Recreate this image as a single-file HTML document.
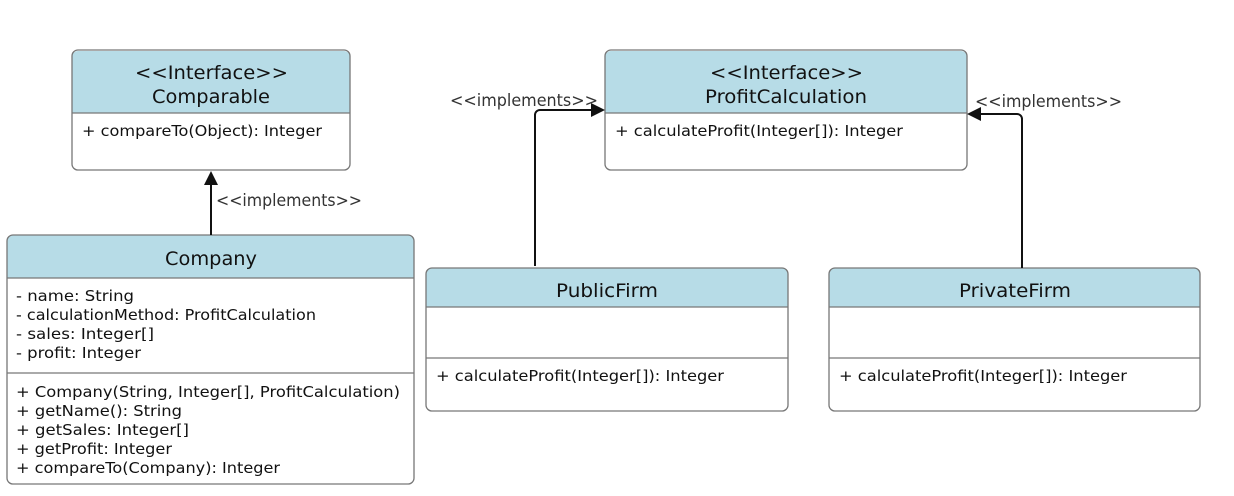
<!DOCTYPE html>
<html><head><meta charset="utf-8"><style>
html,body{margin:0;padding:0;background:#fff;}
svg{display:block;font-family:"DejaVu Sans","Liberation Sans",sans-serif;}
.t{font-size:19px;fill:#111;}
.b{font-size:15px;fill:#111;}
.l{font-size:17px;fill:#333;}
.box{fill:none;stroke:#777;stroke-width:1.3;}
.hd{fill:#b7dce7;}
.ln{stroke:#777;stroke-width:1.3;}
.c{stroke:#111;stroke-width:2;fill:none;}
</style></head><body>
<svg width="1234" height="496" viewBox="0 0 1234 496">
<!-- Comparable -->
<path class="hd" d="M72,113 V57 a6,6 0 0 1 6,-6 H344 a6,6 0 0 1 6,6 V113 Z"/>
<rect class="box" x="72" y="50" width="278" height="120" rx="6"/>
<line class="ln" x1="72" y1="113" x2="350" y2="113"/>
<text class="t" x="135" y="79" textLength="153" lengthAdjust="spacingAndGlyphs">&lt;&lt;Interface&gt;&gt;</text>
<text class="t" x="152" y="103" textLength="118" lengthAdjust="spacingAndGlyphs">Comparable</text>
<text class="b" x="82" y="136" textLength="240" lengthAdjust="spacingAndGlyphs">+ compareTo(Object): Integer</text>

<!-- Company -->
<path class="hd" d="M7,278 V241 a6,6 0 0 1 6,-6 H408 a6,6 0 0 1 6,6 V278 Z"/>
<rect class="box" x="7" y="235" width="407" height="249" rx="6"/>
<line class="ln" x1="7" y1="278" x2="414" y2="278"/>
<line class="ln" x1="7" y1="373" x2="414" y2="373"/>
<text class="t" x="165" y="265" textLength="92" lengthAdjust="spacingAndGlyphs">Company</text>
<text class="b" x="16" y="301" textLength="118" lengthAdjust="spacingAndGlyphs">- name: String</text>
<text class="b" x="16" y="320" textLength="300" lengthAdjust="spacingAndGlyphs">- calculationMethod: ProfitCalculation</text>
<text class="b" x="16" y="339" textLength="138" lengthAdjust="spacingAndGlyphs">- sales: Integer[]</text>
<text class="b" x="16" y="358" textLength="125" lengthAdjust="spacingAndGlyphs">- profit: Integer</text>
<text class="b" x="16" y="397" textLength="384" lengthAdjust="spacingAndGlyphs">+ Company(String, Integer[], ProfitCalculation)</text>
<text class="b" x="16" y="416" textLength="166" lengthAdjust="spacingAndGlyphs">+ getName(): String</text>
<text class="b" x="16" y="435" textLength="173" lengthAdjust="spacingAndGlyphs">+ getSales: Integer[]</text>
<text class="b" x="16" y="454" textLength="156" lengthAdjust="spacingAndGlyphs">+ getProfit: Integer</text>
<text class="b" x="16" y="473" textLength="264" lengthAdjust="spacingAndGlyphs">+ compareTo(Company): Integer</text>

<!-- ProfitCalculation -->
<path class="hd" d="M605,113 V57 a6,6 0 0 1 6,-6 H961 a6,6 0 0 1 6,6 V113 Z"/>
<rect class="box" x="605" y="50" width="362" height="120" rx="6"/>
<line class="ln" x1="605" y1="113" x2="967" y2="113"/>
<text class="t" x="710" y="79" textLength="153" lengthAdjust="spacingAndGlyphs">&lt;&lt;Interface&gt;&gt;</text>
<text class="t" x="705" y="103" textLength="162" lengthAdjust="spacingAndGlyphs">ProfitCalculation</text>
<text class="b" x="615" y="136" textLength="288" lengthAdjust="spacingAndGlyphs">+ calculateProfit(Integer[]): Integer</text>

<!-- PublicFirm -->
<path class="hd" d="M426,307 V274 a6,6 0 0 1 6,-6 H782 a6,6 0 0 1 6,6 V307 Z"/>
<rect class="box" x="426" y="268" width="362" height="143" rx="6"/>
<line class="ln" x1="426" y1="307" x2="788" y2="307"/>
<line class="ln" x1="426" y1="358" x2="788" y2="358"/>
<text class="t" x="556" y="297" textLength="102" lengthAdjust="spacingAndGlyphs">PublicFirm</text>
<text class="b" x="436" y="381" textLength="288" lengthAdjust="spacingAndGlyphs">+ calculateProfit(Integer[]): Integer</text>

<!-- PrivateFirm -->
<path class="hd" d="M829,307 V274 a6,6 0 0 1 6,-6 H1194 a6,6 0 0 1 6,6 V307 Z"/>
<rect class="box" x="829" y="268" width="371" height="143" rx="6"/>
<line class="ln" x1="829" y1="307" x2="1200" y2="307"/>
<line class="ln" x1="829" y1="358" x2="1200" y2="358"/>
<text class="t" x="959" y="297" textLength="112" lengthAdjust="spacingAndGlyphs">PrivateFirm</text>
<text class="b" x="839" y="381" textLength="288" lengthAdjust="spacingAndGlyphs">+ calculateProfit(Integer[]): Integer</text>

<!-- connectors -->
<line class="c" x1="211" y1="235" x2="211" y2="184"/>
<polygon points="211,171 204,185 218,185" fill="#111"/>
<text class="l" x="216" y="206" textLength="146" lengthAdjust="spacingAndGlyphs">&lt;&lt;implements&gt;&gt;</text>

<path class="c" d="M535,266 V115 a5,5 0 0 1 5,-5 H592"/>
<polygon points="605,110 591,103 591,117" fill="#111"/>
<text class="l" x="450" y="106" textLength="148" lengthAdjust="spacingAndGlyphs">&lt;&lt;implements&gt;&gt;</text>

<path class="c" d="M1022,268 V119 a5,5 0 0 0 -5,-5 H980"/>
<polygon points="967,114 981,107 981,121" fill="#111"/>
<text class="l" x="975" y="107" textLength="147" lengthAdjust="spacingAndGlyphs">&lt;&lt;implements&gt;&gt;</text>
</svg>
</body></html>
